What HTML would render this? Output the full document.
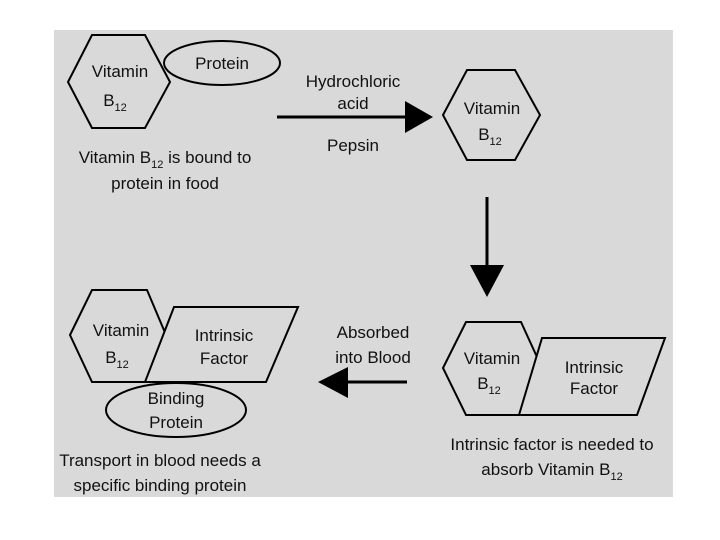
<!DOCTYPE html>
<html><head><meta charset="utf-8"><style>
html,body{margin:0;padding:0;background:#fff;width:720px;height:540px;overflow:hidden}
svg text{font-family:"Liberation Sans",Arial,sans-serif;fill:#111;font-size:17px;text-anchor:middle}
.s{font-size:11px}
</style></head><body>
<svg width="720" height="540" viewBox="0 0 720 540">
<rect x="54" y="30" width="619" height="467" fill="#d9d9d9"/>
<g fill="#d9d9d9" stroke="#000" stroke-width="2">
<!-- top-left -->
<polygon points="68,82 92,35 145,35 170,82 145,128 92,128"/>
<ellipse cx="222" cy="63" rx="58" ry="22"/>
<!-- top-right hex -->
<polygon points="443,115 467,70 515,70 540,115 515,160 467,160"/>
<!-- bottom-left -->
<polygon points="70,335 92,290 147,290 166,335 147,382 92,382"/>
<polygon points="174,307 298,307 266,382 145,382"/>
<ellipse cx="176" cy="410" rx="70" ry="27"/>
<!-- bottom-right -->
<polygon points="443,368 466,322 521,322 542,368 521,415 466,415"/>
<polygon points="542,338 665,338 637,415 519,415"/>
</g>
<!-- arrows -->
<line x1="277" y1="117" x2="408" y2="117" stroke="#000" stroke-width="3"/>
<polygon points="405,101 433,117 405,133" fill="#000"/>
<line x1="487" y1="197" x2="487" y2="268" stroke="#000" stroke-width="3"/>
<polygon points="470,265 504,265 487,297" fill="#000"/>
<line x1="345" y1="382" x2="407" y2="382" stroke="#000" stroke-width="3"/>
<polygon points="348,367 318,382 348,398" fill="#000"/>
<!-- texts top-left -->
<text x="120" y="77">Vitamin</text>
<text x="115" y="106">B<tspan class="s" dy="5">12</tspan></text>
<text x="222" y="69">Protein</text>
<text x="353" y="87">Hydrochloric</text>
<text x="353" y="109">acid</text>
<text x="353" y="151">Pepsin</text>
<text x="165" y="163">Vitamin B<tspan class="s" dy="5">12</tspan><tspan dy="-5"> is bound to</tspan></text>
<text x="165" y="189">protein in food</text>
<text x="492" y="114">Vitamin</text>
<text x="490" y="140">B<tspan class="s" dy="5">12</tspan></text>
<!-- bottom-left -->
<text x="121" y="336">Vitamin</text>
<text x="117" y="363">B<tspan class="s" dy="5">12</tspan></text>
<text x="224" y="341">Intrinsic</text>
<text x="224" y="364">Factor</text>
<text x="176" y="404">Binding</text>
<text x="176" y="428">Protein</text>
<text x="160" y="466">Transport in blood needs a</text>
<text x="160" y="491">specific binding protein</text>
<text x="373" y="338">Absorbed</text>
<text x="373" y="363">into Blood</text>
<!-- bottom-right -->
<text x="492" y="364">Vitamin</text>
<text x="489" y="389">B<tspan class="s" dy="5">12</tspan></text>
<text x="594" y="373">Intrinsic</text>
<text x="594" y="394">Factor</text>
<text x="552" y="450">Intrinsic factor is needed to</text>
<text x="552" y="475">absorb Vitamin B<tspan class="s" dy="5">12</tspan></text>
</svg>
</body></html>
